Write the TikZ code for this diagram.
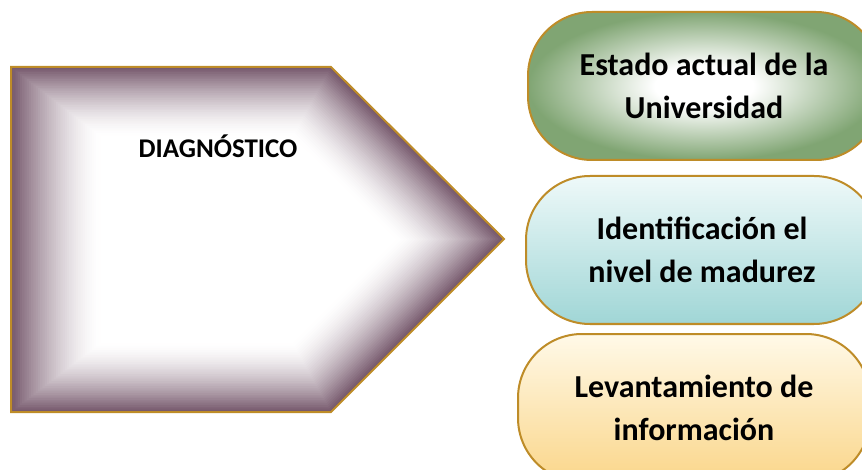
\documentclass[tikz,border=0pt]{standalone}
\usepackage{fontspec}
\setmainfont{Carlito}
\usepackage{tikz}
\usetikzlibrary{calc,positioning}

\definecolor{goldline}{RGB}{190,140,40}
\definecolor{diagedge}{RGB}{118,88,108}
\definecolor{estgreen}{RGB}{128,165,115}
\definecolor{idtop}{RGB}{238,249,249}
\definecolor{idbot}{RGB}{160,214,214}
\definecolor{levtop}{RGB}{255,249,232}
\definecolor{levbot}{RGB}{250,214,138}

\pgfdeclareradialshading{estshade}{\pgfpoint{0bp}{0bp}}{color(0bp)=(white); color(7bp)=(white); color(25bp)=(estgreen); color(50bp)=(estgreen)}

\tikzset{
  pill/.style={draw=goldline, line width=2pt, rounded corners=64pt,
    minimum width=352pt, minimum height=148pt, align=center,
    font=\fontsize{32}{43}\selectfont\bfseries, text=black},
}

\begin{document}
\begin{tikzpicture}[x=1pt,y=-1pt]
\useasboundingbox (0,0) rectangle (862,470);
\clip (0,0) rectangle (862,470);
\pgfmathsetmacro{\steps}{40}
% pentagon corners
\coordinate (p1) at (11,67);
\coordinate (p2) at (331,67);
\coordinate (p3) at (504,239);
\coordinate (p4) at (331,412);
\coordinate (p5) at (11,412);
\coordinate (c) at (235,240);
\foreach \i in {0,...,40}{
  \pgfmathsetmacro{\s}{1-0.4*\i/\steps}
  \pgfmathsetmacro{\m}{100*(1-\i/\steps)^1.6}
  \fill[diagedge!\m!white] ($(c)!\s!(p1)$) -- ($(c)!\s!(p2)$) -- ($(c)!\s!(p3)$)
    -- ($(c)!\s!(p4)$) -- ($(c)!\s!(p5)$) -- cycle;
}
\draw[goldline, line width=2pt] (p1) -- (p2) -- (p3) -- (p4) -- (p5) -- cycle;
\node[font=\fontsize{27}{30}\selectfont\bfseries] (diag) at (218,146) {DIAGNÓSTICO};

% boxes on the right
\node[pill, shading=estshade] (estado) at (704,86)
  {Estado actual de la\\Universidad};
\node[pill, top color=idtop, bottom color=idbot] (ident) at (702,250)
  {Identificación el\\nivel de madurez};
\node[pill, top color=levtop, bottom color=levbot] (levan) at (694,408)
  {Levantamiento de\\información};
\end{tikzpicture}
\end{document}
